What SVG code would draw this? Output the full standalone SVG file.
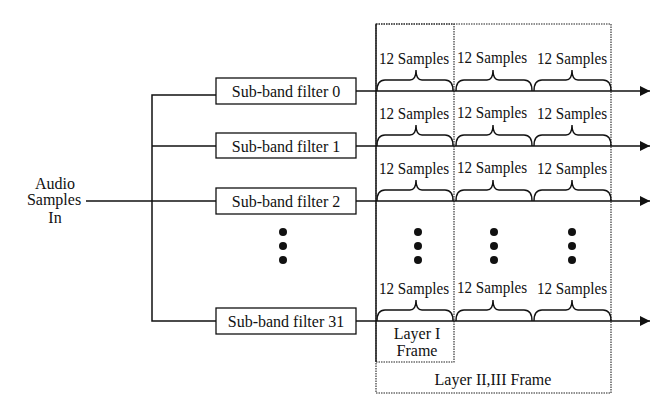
<svg xmlns="http://www.w3.org/2000/svg" width="662" height="412" viewBox="0 0 662 412">
<style>
text{font-family:"Liberation Serif","Times New Roman",serif;font-size:16px;fill:#111}
.c{text-anchor:middle}
.box{fill:#fff;stroke:#111;stroke-width:1.3}
.ln{fill:none;stroke:#111;stroke-width:1.5}
.br{fill:none;stroke:#111;stroke-width:1.4}
.fr{fill:none;stroke:#222;stroke-width:1.1;stroke-dasharray:1.5 1}
.dot{fill:#111}
</style>
<defs>
<marker id="ah" viewBox="0 0 10 10" refX="10" refY="5" markerWidth="10" markerHeight="10" markerUnits="userSpaceOnUse" orient="auto">
<path d="M0,0 L10,5 L0,10 Z" fill="#111"/>
</marker>
</defs>
<g id="frames">
<rect class="fr" x="376" y="24" width="78" height="338"/>
<rect class="fr" x="376" y="24" width="235" height="369"/>
<line x1="376" y1="24" x2="376" y2="362" stroke="#111" stroke-width="1.1"/>
<text class="c" x="417" y="339">Layer I</text>
<text class="c" x="417" y="356">Frame</text>
<text class="c" x="493" y="385">Layer II,III Frame</text>
</g>
<g id="connectors">
<path class="ln" d="M216,95 H152 V321 H216"/>
<line class="ln" x1="152" y1="146" x2="216" y2="146"/>
<line class="ln" x1="86" y1="201" x2="216" y2="201"/>
<line class="ln" x1="356" y1="91" x2="650" y2="91" marker-end="url(#ah)"/>
<line class="ln" x1="356" y1="146" x2="650" y2="146" marker-end="url(#ah)"/>
<line class="ln" x1="356" y1="201" x2="650" y2="201" marker-end="url(#ah)"/>
<line class="ln" x1="356" y1="321" x2="650" y2="321" marker-end="url(#ah)"/>
</g>
<g id="input">
<text class="c" x="55" y="189">Audio</text>
<text class="c" x="54" y="205">Samples</text>
<text class="c" x="55" y="223">In</text>
</g>
<g id="filter0"><rect class="box" x="216" y="78" width="140" height="26"/><text class="c" x="286" y="97">Sub-band filter 0</text></g>
<g id="filter1"><rect class="box" x="216" y="133" width="140" height="25"/><text class="c" x="286" y="152">Sub-band filter 1</text></g>
<g id="filter2"><rect class="box" x="216" y="188" width="140" height="26"/><text class="c" x="286" y="207">Sub-band filter 2</text></g>
<g id="filter31"><rect class="box" x="216" y="308" width="140" height="26"/><text class="c" x="286" y="327">Sub-band filter 31</text></g>
<g id="dots">
<circle class="dot" cx="283" cy="232" r="4"/><circle class="dot" cx="283" cy="246" r="4"/><circle class="dot" cx="283" cy="260" r="4"/>
<circle class="dot" cx="418" cy="232" r="4"/><circle class="dot" cx="418" cy="246" r="4"/><circle class="dot" cx="418" cy="260" r="4"/>
<circle class="dot" cx="494" cy="232" r="4"/><circle class="dot" cx="494" cy="246" r="4"/><circle class="dot" cx="494" cy="260" r="4"/>
<circle class="dot" cx="572" cy="232" r="4"/><circle class="dot" cx="572" cy="246" r="4"/><circle class="dot" cx="572" cy="260" r="4"/>
</g>
<g id="row0">
<path class="br" d="M377,91 Q377,80 385,80 H410 Q416,80 416,70 Q416,80 422,80 H445 Q453,80 453,91"/>
<path class="br" d="M456,91 Q456,80 464,80 H487 Q493,80 493,70 Q493,80 499,80 H524 Q532,80 532,91"/>
<path class="br" d="M534,91 Q534,80 542,80 H566 Q572,80 572,70 Q572,80 578,80 H603 Q611,80 611,91"/>
<text x="379" y="64" textLength="70" lengthAdjust="spacingAndGlyphs">12 Samples</text><text x="457" y="63" textLength="70" lengthAdjust="spacingAndGlyphs">12 Samples</text><text x="537" y="64" textLength="70" lengthAdjust="spacingAndGlyphs">12 Samples</text>
</g>
<g id="row1">
<path class="br" d="M377,146 Q377,135 385,135 H410 Q416,135 416,125 Q416,135 422,135 H445 Q453,135 453,146"/>
<path class="br" d="M456,146 Q456,135 464,135 H487 Q493,135 493,125 Q493,135 499,135 H524 Q532,135 532,146"/>
<path class="br" d="M534,146 Q534,135 542,135 H566 Q572,135 572,125 Q572,135 578,135 H603 Q611,135 611,146"/>
<text x="379" y="119" textLength="70" lengthAdjust="spacingAndGlyphs">12 Samples</text><text x="457" y="118" textLength="70" lengthAdjust="spacingAndGlyphs">12 Samples</text><text x="537" y="119" textLength="70" lengthAdjust="spacingAndGlyphs">12 Samples</text>
</g>
<g id="row2">
<path class="br" d="M377,201 Q377,190 385,190 H410 Q416,190 416,180 Q416,190 422,190 H445 Q453,190 453,201"/>
<path class="br" d="M456,201 Q456,190 464,190 H487 Q493,190 493,180 Q493,190 499,190 H524 Q532,190 532,201"/>
<path class="br" d="M534,201 Q534,190 542,190 H566 Q572,190 572,180 Q572,190 578,190 H603 Q611,190 611,201"/>
<text x="379" y="174" textLength="70" lengthAdjust="spacingAndGlyphs">12 Samples</text><text x="457" y="173" textLength="70" lengthAdjust="spacingAndGlyphs">12 Samples</text><text x="537" y="174" textLength="70" lengthAdjust="spacingAndGlyphs">12 Samples</text>
</g>
<g id="row31">
<path class="br" d="M377,321 Q377,310 385,310 H410 Q416,310 416,300 Q416,310 422,310 H445 Q453,310 453,321"/>
<path class="br" d="M456,321 Q456,310 464,310 H487 Q493,310 493,300 Q493,310 499,310 H524 Q532,310 532,321"/>
<path class="br" d="M534,321 Q534,310 542,310 H566 Q572,310 572,300 Q572,310 578,310 H603 Q611,310 611,321"/>
<text x="379" y="294" textLength="70" lengthAdjust="spacingAndGlyphs">12 Samples</text><text x="457" y="293" textLength="70" lengthAdjust="spacingAndGlyphs">12 Samples</text><text x="537" y="294" textLength="70" lengthAdjust="spacingAndGlyphs">12 Samples</text>
</g>
</svg>
